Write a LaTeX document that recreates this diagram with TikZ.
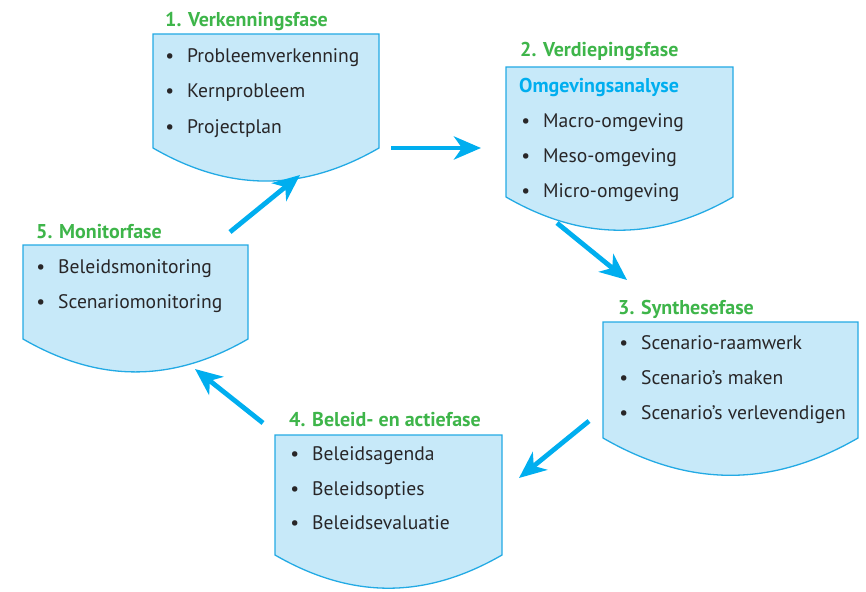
\documentclass[tikz,border=0pt]{standalone}
\usepackage{fontspec}
\setmainfont{PT Sans}
\usetikzlibrary{arrows.meta,positioning}

\definecolor{faseFill}{RGB}{199,233,249}
\definecolor{faseLine}{RGB}{35,170,228}
\definecolor{pijlBlue}{RGB}{0,174,239}
\definecolor{faseGreen}{RGB}{62,181,74}
\definecolor{itemText}{RGB}{40,38,40}

\begin{document}
\begin{tikzpicture} [x=1pt, y=-1pt, >={Stealth[length=27pt, width=23pt, inset=8pt]},
  faseBox/.style={draw=faseLine, fill=faseFill, line width=1.3pt},
  faseTitle/.style={anchor=base west, inner sep=0pt, text=faseGreen, font=\fontsize{20}{22}\selectfont\bfseries},
  faseItem/.style={anchor=base west, inner sep=0pt, text=itemText, font=\fontsize{19.6}{22}\selectfont},
  flowArrow/.style={->, draw=pijlBlue, line width=4.8pt}]

\useasboundingbox (0,0) rectangle (866,591);

\foreach \n/\l/\t/\r/\b in {1/153/34/379/148, 2/506/67/733/197, 3/603/322/858/438, 4/275/435/502/555, 5/23/245/248/339}
  \draw [faseBox] (\l,\t) -- (\r,\t) -- (\r,\b) to[out=-150,in=-30] (\l,\b) -- cycle;

\foreach \n/\x/\y/\t in {1/165/27/{1. Verkenningsfase}, 2/520/57/{2. Verdiepingsfase}, 3/618/314/{3. Synthesefase}, 4/289/426/{4. Beleid- en actiefase}, 5/36/238/{5. Monitorfase}}
  \node [faseTitle] (title-\n) at (\x,\y) {\t};

\node [faseTitle, text=pijlBlue] (sub-2) at (519,93) {Omgevingsanalyse};

\foreach \t [count=\i] in {Probleemverkenning, Kernprobleem, Projectplan}
  \node [faseItem] (item-1-\i) at (187,28+35*\i) {\llap{\textbullet\hspace{13pt}}\t};

\foreach \t [count=\i] in {Macro-omgeving, Meso-omgeving, Micro-omgeving}
  \node [faseItem] (item-2-\i) at (543,92+35*\i) {\llap{\textbullet\hspace{13pt}}\t};

\foreach \t [count=\i] in {Scenario-raamwerk, Scenario’s maken, Scenario’s verlevendigen}
  \node [faseItem] (item-3-\i) at (641,314+35*\i) {\llap{\textbullet\hspace{13pt}}\t};

\foreach \t [count=\i] in {Beleidsagenda, Beleidsopties, Beleidsevaluatie}
  \node [faseItem] (item-4-\i) at (312,426+34.5*\i) {\llap{\textbullet\hspace{13pt}}\t};

\foreach \t [count=\i] in {Beleidsmonitoring, Scenariomonitoring}
  \node [faseItem] (item-5-\i) at (58,238+35*\i) {\llap{\textbullet\hspace{13pt}}\t};

% arrows between the phases
\foreach \i/\a/\b/\c/\d in {1/391/148/481/148, 2/230/232/300/175, 3/557/223/627/280, 4/589/421/519/478, 5/263/423/195/369} {
  \coordinate (from-\i) at (\a,\b);
  \coordinate (to-\i) at (\c,\d);
  \draw [flowArrow] (from-\i) -- (to-\i);
}

\end{tikzpicture}
\end{document}
